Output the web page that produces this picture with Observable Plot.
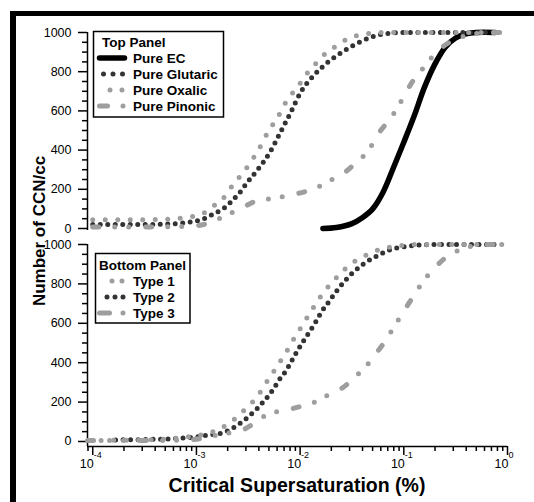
<!DOCTYPE html>
<html><head><meta charset="utf-8">
<script src="https://cdn.jsdelivr.net/npm/d3@7"></script>
<script src="https://cdn.jsdelivr.net/npm/@observablehq/plot@0.6"></script>
<style>
body{margin:0;background:#fff;}
#root{position:relative;width:534px;height:502px;overflow:hidden;background:#fff;font-family:"Liberation Sans",Arial,sans-serif;}
#root svg{position:absolute;left:0;background:transparent;}
</style></head><body><div id="root"></div>
<script>
// ---------- axes ----------
const xDomain = [8.9e-5, 1];
const yTicks = [0, 200, 400, 600, 800, 1000];
const yMinor = [50,100,150,250,300,350,450,500,550,650,700,750,850,900,950];
const xMajor = [1e-4, 1e-3, 1e-2, 1e-1, 1];
const xMajorBase = ["10","10","10","10","10"];
const xMajorExp = ["-4","-3","-2","-1","0"];
const xMinor = [9e-5,
  2e-4,3e-4,4e-4,5e-4,6e-4,7e-4,8e-4,9e-4,
  2e-3,3e-3,4e-3,5e-3,6e-3,7e-3,8e-3,9e-3,
  2e-2,3e-2,4e-2,5e-2,6e-2,7e-2,8e-2,9e-2,
  0.2,0.3,0.4,0.5,0.6,0.7,0.8,0.9];
const topTitle = "Top Panel";
const topNames = ["Pure EC","Pure Glutaric","Pure Oxalic","Pure Pinonic"];
const bottomTitle = "Bottom Panel";
const bottomNames = ["Type 1","Type 2","Type 3"];
const xTitle = "Critical Supersaturation (%)";
const yTitle = "Number of CCN/cc";

// ---------- top panel data ----------
const ecS = [1.66e-2,2.24e-2,3.16e-2,3.98e-2,5.01e-2,6.31e-2,7.94e-2,0.100,0.126,0.158,0.200,0.251,0.316,0.398,0.501,0.759];
const ecN = [0,5,25,55,100,185,310,440,575,720,840,925,972,993,1000,1000];

const glutS = [1.00e-4,2.51e-4,5.01e-4,7.94e-4,1.12e-3,1.48e-3,1.86e-3,2.29e-3,2.66e-3,3.09e-3,3.89e-3,5.13e-3,6.46e-3,8.13e-3,1.00e-2,1.35e-2,1.82e-2,2.63e-2,3.89e-2,6.03e-2,0.100,0.316,0.708];
const glutN = [20,20,22,30,45,76,105,150,188,235,300,390,491,593,690,780,845,905,955,990,1000,1000,1000];

const oxS = [1.00e-4,3.16e-4,6.31e-4,8.91e-4,1.17e-3,1.48e-3,1.91e-3,2.29e-3,2.85e-3,3.31e-3,3.89e-3,4.47e-3,5.13e-3,6.03e-3,6.97e-3,8.13e-3,9.77e-3,1.17e-2,1.46e-2,1.82e-2,2.29e-2,2.85e-2,3.98e-2,6.31e-2,0.891];
const oxN = [45,45,50,60,78,117,168,230,287,338,392,454,510,563,628,679,733,792,849,900,934,967,990,1000,1000];

const pinS = [1.00e-4,3.16e-4,7.94e-4,1.26e-3,1.66e-3,2.14e-3,2.69e-3,3.55e-3,4.90e-3,6.46e-3,8.32e-3,1.10e-2,1.48e-2,1.95e-2,2.57e-2,3.31e-2,4.47e-2,5.89e-2,7.76e-2,9.44e-2,0.117,0.158,0.200,0.275,0.355,0.501,0.708,1.05];
const pinN = [8,8,10,25,50,78,102,135,150,160,172,187,211,245,278,327,393,495,575,650,737,826,892,950,976,995,1000,1000];

// ---------- bottom panel data ----------
const t1S = [9.12e-5,3.16e-4,8.71e-4,1.48e-3,1.91e-3,2.45e-3,3.09e-3,3.89e-3,4.57e-3,5.37e-3,6.31e-3,7.41e-3,8.51e-3,9.86e-3,1.15e-2,1.34e-2,1.58e-2,1.91e-2,2.40e-2,3.02e-2,3.98e-2,5.01e-2,6.46e-2,8.32e-2,0.126,1.00];
const t1N = [5,8,25,52,81,123,174,230,288,343,400,457,513,567,623,679,736,792,848,898,936,961,981,991,1000,1000];

const t2S = [1.66e-4,3.16e-4,6.31e-4,9.44e-4,1.41e-3,1.78e-3,2.09e-3,2.45e-3,2.88e-3,3.31e-3,3.89e-3,4.47e-3,5.13e-3,5.75e-3,6.38e-3,7.08e-3,7.76e-3,8.51e-3,9.33e-3,1.02e-2,1.12e-2,1.24e-2,1.38e-2,1.51e-2,1.66e-2,1.86e-2,2.09e-2,2.36e-2,2.69e-2,3.09e-2,3.63e-2,4.22e-2,5.01e-2,5.89e-2,6.76e-2,7.94e-2,9.33e-2,0.126,0.200,0.741];
const t2N = [8,10,15,22,35,44,59,81,107,135,169,205,242,281,318,349,382,420,457,491,524,560,597,634,669,704,741,778,814,848,880,907,930,949,966,978,986,995,1000,1000];

const t3S = [8.91e-5,3.16e-4,7.94e-4,1.26e-3,1.66e-3,2.14e-3,2.69e-3,3.63e-3,4.90e-3,6.46e-3,8.32e-3,1.10e-2,1.51e-2,1.95e-2,2.57e-2,3.31e-2,4.47e-2,5.50e-2,6.61e-2,7.83e-2,9.44e-2,0.112,0.129,0.158,0.204,0.269,0.339,0.447,0.631,1.02];
const t3N = [5,5,8,20,35,45,55,93,140,154,166,184,208,242,273,323,391,453,509,572,640,702,753,821,888,944,970,991,1000,1000];

const rows = (S, N) => S.map((s, i) => ({s, n: N[i]}));

const DARK = "#333333", LIGHT = "#9e9e9e";
const dotDark = {strokeWidth: 5, strokeDasharray: "0,7.5", strokeLinecap: "round"};
const dotLight = {strokeWidth: 5, strokeDasharray: "0,12.5", strokeLinecap: "round"};
const dashDot = {strokeWidth: 5, strokeDasharray: "6,16,0,14,0,17", strokeLinecap: "round"};
const fontFam = "'Liberation Sans', Arial, sans-serif";

function yAxisMarks() {
  return [
    Plot.ruleX([xDomain[0]], {stroke: "black", strokeWidth: 1.5}),
    Plot.axisY(yTicks, {tickSize: 9, tickPadding: 7, strokeWidth: 1.5, fontSize: 12.5, tickFormat: d => String(d), label: null}),
    Plot.axisY(yMinor, {tickSize: 5, strokeWidth: 1.5, tickFormat: () => "", label: null})
  ];
}
const lineOpts = (extra) => Object.assign({x: "s", y: "n", curve: "monotone-x"}, extra);

const topPlot = Plot.plot({
  width: 534, height: 236, marginTop: 32, marginBottom: 6, marginLeft: 87, marginRight: 27,
  x: {type: "log", domain: xDomain, axis: null},
  y: {domain: [-10.2, 1000]},
  style: {fontFamily: fontFam, fontSize: "12.5px", color: "black", background: "transparent", overflow: "visible"},
  marks: [
    ...yAxisMarks(),
    Plot.line(rows(ecS, ecN), lineOpts({stroke: "black", strokeWidth: 5.5, strokeLinecap: "round", curve: "catmull-rom"})),
    Plot.line(rows(glutS, glutN), lineOpts({stroke: DARK, ...dotDark})),
    Plot.line(rows(oxS, oxN), lineOpts({stroke: LIGHT, ...dotLight})),
    Plot.line(rows(pinS, pinN), lineOpts({stroke: LIGHT, ...dashDot}))
  ]
});
topPlot.style.top = "0px";

const yDomB = [-25.4, 1000];
const bottomPlot = Plot.plot({
  width: 534, height: 266, marginTop: 8, marginBottom: 56, marginLeft: 87, marginRight: 27,
  x: {type: "log", domain: xDomain},
  y: {domain: yDomB},
  style: {fontFamily: fontFam, fontSize: "12.5px", color: "black", background: "transparent", overflow: "visible"},
  marks: [
    ...yAxisMarks(),
    Plot.ruleY([yDomB[0]], {stroke: "black", strokeWidth: 1.5}),
    Plot.axisX(xMajor, {tickSize: 9, strokeWidth: 1.5, tickFormat: () => "", label: null}),
    Plot.axisX(xMinor, {tickSize: 5, strokeWidth: 1.5, tickFormat: () => "", label: null}),
    Plot.text(xMajor, {x: d => d, frameAnchor: "bottom", text: (d, i) => xMajorBase[i], textAnchor: "end", dx: 1, dy: 21, fontSize: 12.5}),
    Plot.text(xMajor, {x: d => d, frameAnchor: "bottom", text: (d, i) => xMajorExp[i], textAnchor: "start", dx: 1, dy: 11, fontSize: 9}),
    Plot.line(rows(t2S, t2N), lineOpts({stroke: DARK, ...dotDark})),
    Plot.line(rows(t1S, t1N), lineOpts({stroke: LIGHT, ...dotLight})),
    Plot.line(rows(t3S, t3N), lineOpts({stroke: LIGHT, ...dashDot}))
  ]
});
bottomPlot.style.top = "236px";

const root = document.getElementById("root");
root.appendChild(topPlot);
root.appendChild(bottomPlot);

// ---------- overlay: frame, legends, titles ----------
const ov = d3.select(root).append("svg")
  .attr("width", 534).attr("height", 502)
  .style("top", "0px").style("pointer-events", "none")
  .style("font-family", fontFam);

ov.append("rect").attr("x", 10).attr("y", 11).attr("width", 524).attr("height", 5).attr("fill", "black");
ov.append("rect").attr("x", 10).attr("y", 11).attr("width", 6).attr("height", 491).attr("fill", "black");

function legend(box, title, names, titleX, rowY0, samples) {
  ov.append("rect").attr("x", box[0]).attr("y", box[1]).attr("width", box[2]).attr("height", box[3])
    .attr("fill", "white").attr("stroke", "black").attr("stroke-width", 1.5);
  ov.append("text").attr("x", titleX).attr("y", rowY0 - 16 + 4.6).attr("font-size", 13.5).attr("font-weight", "bold").text(title);
  names.forEach((name, i) => {
    const cy = rowY0 + i * 16;
    const s = samples[i];
    ov.append("line").attr("x1", s.x1).attr("x2", s.x2).attr("y1", cy).attr("y2", cy)
      .attr("stroke", s.color).attr("stroke-width", s.w)
      .attr("stroke-linecap", "round").attr("stroke-dasharray", s.dash);
    ov.append("text").attr("x", 133).attr("y", cy + 4.6).attr("font-size", 13.5).attr("font-weight", "bold").text(name);
  });
}
legend([93.5, 31.5, 130, 85.5], topTitle, topNames, 102, 58, [
  {x1: 99.5, x2: 124.5, color: "black", w: 5.5, dash: null},
  {x1: 103.5, x2: 122.6, color: DARK, w: 5, dash: "0,9.5"},
  {x1: 110, x2: 122.1, color: LIGHT, w: 5, dash: "0,12"},
  {x1: 99.5, x2: 123.1, color: LIGHT, w: 5, dash: "8,15.5,0,100"}
]);
legend([95.5, 253.5, 94.5, 69.5], bottomTitle, bottomNames, 99, 281, [
  {x1: 112, x2: 122.1, color: LIGHT, w: 5, dash: "0,10"},
  {x1: 107, x2: 123.1, color: DARK, w: 5, dash: "0,8"},
  {x1: 99.5, x2: 123.1, color: LIGHT, w: 5, dash: "10,13.5,0,100"}
]);

ov.append("text").attr("x", 297).attr("y", 492).attr("text-anchor", "middle")
  .attr("font-size", 19.5).attr("font-weight", "bold").text(xTitle);
ov.append("text").attr("transform", "translate(45,231) rotate(-90)").attr("text-anchor", "middle")
  .attr("font-size", 17).attr("font-weight", "bold").text(yTitle);
</script></body></html>
